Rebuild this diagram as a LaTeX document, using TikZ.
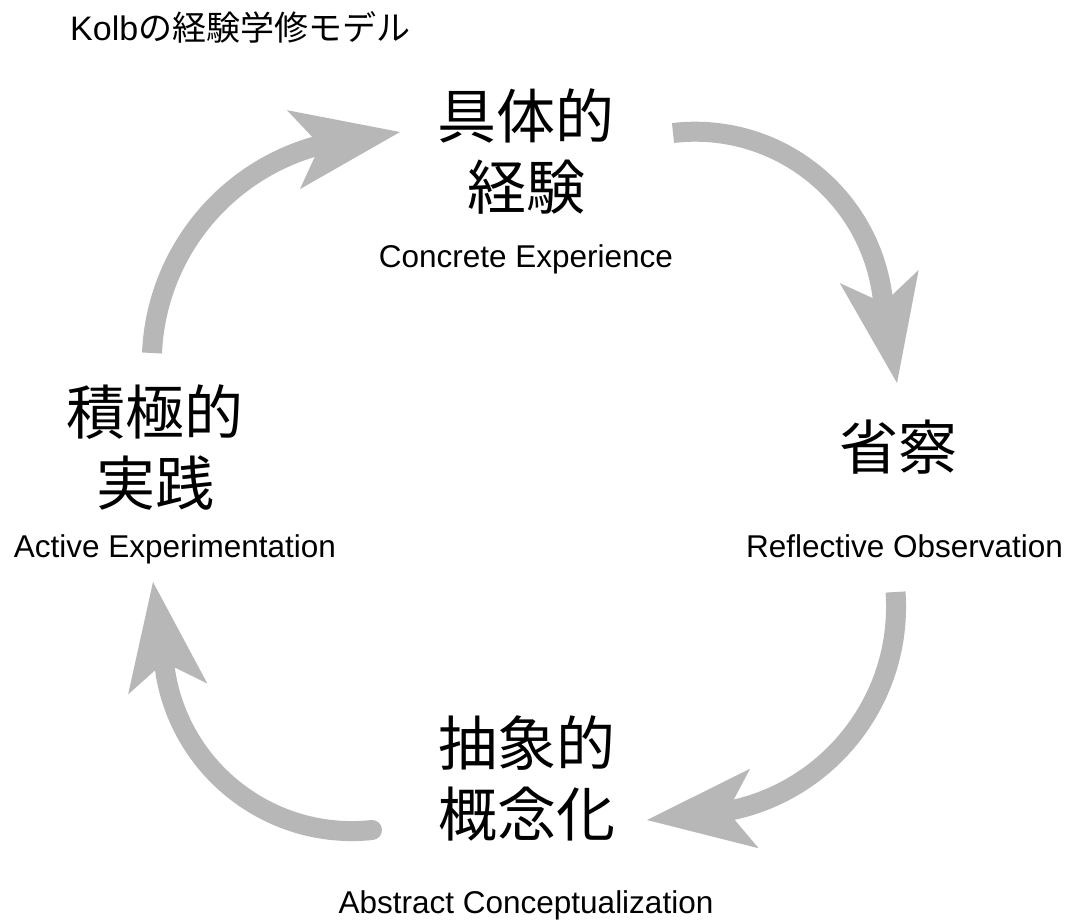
\documentclass[tikz,border=0pt]{standalone}
\usepackage{fontspec}
\setmainfont{Liberation Sans}
\newfontfamily\jp{Noto Sans CJK JP}
\usetikzlibrary{arrows.meta}
\definecolor{arrowgray}{HTML}{B7B7B7}
\begin{document}
\begin{tikzpicture}[x=1pt,y=-1pt,
  titletext/.style={font=\fontsize{34}{40}\selectfont, inner sep=0pt},
  jpbig/.style={font=\jp\fontsize{59}{71}\selectfont, align=center, inner sep=0pt},
  entext/.style={font=\fontsize{31.5}{38}\selectfont, inner sep=0pt, anchor=base},
  flow/.style={draw=arrowgray, line width=20pt,
    -{Stealth[length=108pt,width=80pt,inset=27pt,line width=0pt]}}]
\useasboundingbox (0,0) rectangle (1071,922);

% title
\node[titletext, anchor=base west] (title) at (70,40) {Kolb{\jp の経験学修モデル}};

% stages
\node[jpbig] (ce) at (526,151.5) {具体的\\経験};
\node[entext] (ceen) at (526,267) {Concrete Experience};
\node[jpbig] (ro) at (898,447) {省察};
\node[entext] (roen) at (904.5,557) {Reflective Observation};
\node[jpbig] (ac) at (527,778) {抽象的\\概念化};
\node[entext] (acen) at (526,913) {Abstract Conceptualization};
\node[jpbig] (ae) at (155,447.5) {積極的\\実践};
\node[entext] (aeen) at (175,557) {Active Experimentation};

% arrow end points
\coordinate (a1s) at (673,133);
\coordinate (a1t) at (897,383);
\coordinate (a2s) at (895.5,592);
\coordinate (a2t) at (647,820);
\coordinate (a3s) at (372,830);
\coordinate (a3t) at (153,582);
\coordinate (a4s) at (152,353);
\coordinate (a4t) at (400,132);

% arrows
\draw[flow] (a1s) arc[start angle=-96.7, end angle=-8, radius=189] -- (a1t);
\draw[flow] (a2s) arc[start angle=-4.1, end angle=80, radius=208] -- (a2t);
\draw[flow, line cap=round] (a3s) arc[start angle=83.9, end angle=170, radius=189] -- (a3t);
\draw[flow] (a4s) arc[start angle=182.5, end angle=255, radius=225] -- (a4t);
\end{tikzpicture}
\end{document}
